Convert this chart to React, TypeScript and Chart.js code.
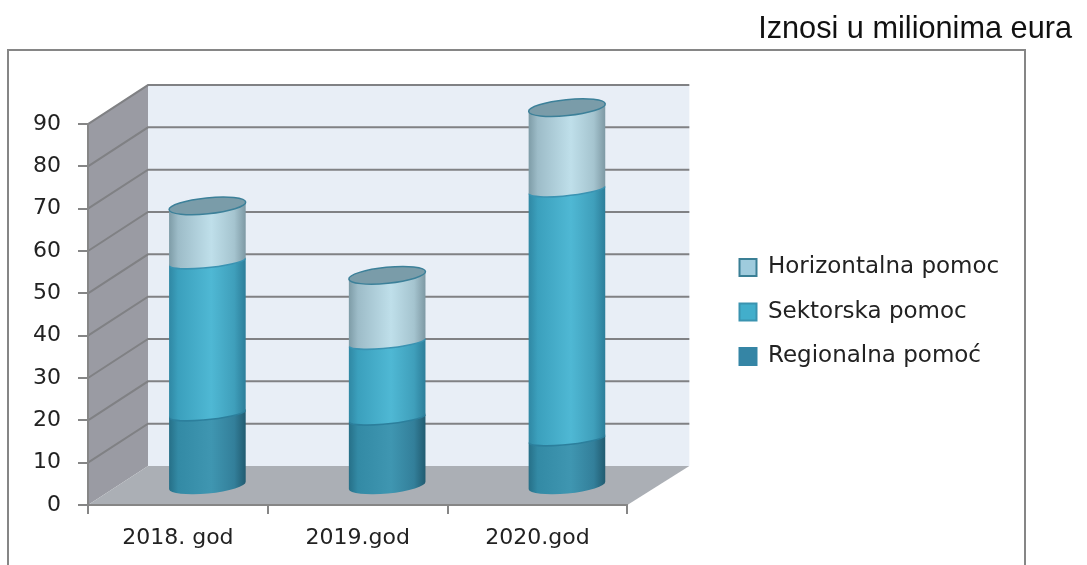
import React, { useEffect, useRef } from "react";
import { Chart, registerables } from "chart.js";

Chart.register(...registerables);

const categories = ["2018. god", "2019.god", "2020.god"];
const regionalna = [17.2, 16.2, 11.3];
const sektorska = [35.9, 17.9, 58.8];
const horizontalna = [13.2, 15.8, 19.4];
const yTicks = [0, 10, 20, 30, 40, 50, 60, 70, 80, 90];

const LABEL_FONT = "'DejaVu Sans'";
const DEPTH_X = 60;
const DEPTH_Y = 39;
const BAR_DX = 29.5;
const BAR_DY = -18.5;
const RY = 8;
const ROT = -0.1;

const stops = [0, 0.12, 0.55, 0.85, 1];
const gradients = [
  ["#266f87", "#338aa5", "#3f96b1", "#337f9a", "#215b70"],
  ["#2f87a3", "#3ba0bd", "#4fb8d4", "#3f9fbb", "#2c7d99"],
  ["#7d9ba6", "#9dbcc8", "#bfdfea", "#a5c4cf", "#7d98a3"],
];

const scene = {
  id: "scene3d",
  afterLayout(chart: any) {
    chart.legend.left = 718;
    chart.legend.top += 59;
  },
  beforeDraw(chart: any) {
    const { ctx, chartArea: a, scales } = chart;
    const y = scales.y;
    ctx.save();
    ctx.fillStyle = "#ffffff";
    ctx.fillRect(0, 0, chart.width, chart.height);
    ctx.strokeStyle = "#868686";
    ctx.lineWidth = 2;
    ctx.strokeRect(8, 50, 1017, 530);

    const bl = a.left, br = a.right, b = a.bottom, t = a.top;
    ctx.fillStyle = "#e8eef6";
    ctx.fillRect(bl + DEPTH_X, t - DEPTH_Y, br - bl + 2, b - t);
    ctx.fillStyle = "#9a9ba3";
    ctx.beginPath();
    ctx.moveTo(bl, b);
    ctx.lineTo(bl, t);
    ctx.lineTo(bl + DEPTH_X, t - DEPTH_Y);
    ctx.lineTo(bl + DEPTH_X, b - DEPTH_Y);
    ctx.closePath();
    ctx.fill();
    ctx.fillStyle = "#abafb5";
    ctx.beginPath();
    ctx.moveTo(bl, b);
    ctx.lineTo(br, b);
    ctx.lineTo(br + DEPTH_X + 2, b - DEPTH_Y);
    ctx.lineTo(bl + DEPTH_X, b - DEPTH_Y);
    ctx.closePath();
    ctx.fill();

    ctx.strokeStyle = "#808184";
    ctx.lineWidth = 2;
    for (const v of yTicks) {
      const py = y.getPixelForValue(v);
      if (v === 0) continue;
      ctx.beginPath();
      ctx.moveTo(bl, py);
      ctx.lineTo(bl + DEPTH_X, py - DEPTH_Y);
      ctx.lineTo(br + DEPTH_X + 2, py - DEPTH_Y);
      ctx.stroke();
    }
    ctx.restore();
  },
  beforeDatasetDraw() {
    return false;
  },
  afterDatasetsDraw(chart: any) {
    const { ctx } = chart;
    const n = chart.data.labels.length;
    for (let j = 0; j < n; j++) {
      let top: any = null;
      chart.data.datasets.forEach((_: any, i: number) => {
        const el = chart.getDatasetMeta(i).data[j];
        const rx = el.width / 2;
        const cx = el.x + BAR_DX;
        const yb = el.base + BAR_DY;
        const yt = el.y + BAR_DY;
        const g = ctx.createLinearGradient(cx - rx, 0, cx + rx, 0);
        stops.forEach((s, k) => g.addColorStop(s, gradients[i][k]));
        ctx.beginPath();
        ctx.ellipse(cx, yb, rx, i === 0 ? RY : RY - 2, ROT, 0, Math.PI);
        ctx.ellipse(cx, yt, rx, RY - 2, ROT, Math.PI, 0);
        ctx.closePath();
        ctx.fillStyle = g;
        ctx.fill();
        if (i > 0) {
          ctx.beginPath();
          ctx.ellipse(cx, yb, rx, RY - 2, ROT, 0.12, Math.PI - 0.12);
          ctx.strokeStyle = i === 1 ? "#2c7f9c" : "#3a93b2";
          ctx.lineWidth = 1.5;
          ctx.stroke();
        }
        top = { cx, yt, rx };
      });
      if (top) {
        ctx.beginPath();
        ctx.ellipse(top.cx, top.yt, top.rx, RY, ROT, 0, Math.PI * 2);
        ctx.fillStyle = "#7a9ca9";
        ctx.fill();
        ctx.strokeStyle = "#3c8099";
        ctx.lineWidth = 1.5;
        ctx.stroke();
      }
    }
  },
};

export default function App() {
  const ref = useRef<HTMLCanvasElement>(null);
  useEffect(() => {
    const chart = new Chart(ref.current as HTMLCanvasElement, {
      type: "bar",
      plugins: [scene],
      data: {
        labels: categories,
        datasets: [
          { label: "Regionalna pomoć", data: regionalna, backgroundColor: "#3585a5", borderColor: "#3585a5", borderWidth: 2, barThickness: 77, clip: false },
          { label: "Sektorska pomoc", data: sektorska, backgroundColor: "#42aecb", borderColor: "#3a93b0", borderWidth: 2, barThickness: 77, clip: false },
          { label: "Horizontalna pomoc", data: horizontalna, backgroundColor: "#9fcbdd", borderColor: "#3a7f95", borderWidth: 2, barThickness: 77, clip: false },
        ],
      } as any,
      options: {
        responsive: false,
        animation: false,
        layout: { padding: { left: 0, right: 15, top: 0, bottom: 0 } },
        scales: {
          x: {
            stacked: true,
            grid: { drawOnChartArea: false, drawTicks: true, tickLength: 9, offset: true, color: "#868686", lineWidth: 2 },
            border: { color: "#868686", width: 2 },
            ticks: { color: "#222222", font: { family: LABEL_FONT, size: 22 }, padding: 11, maxRotation: 0 },
            afterFit: (s: any) => { s.height = 60; },
          },
          y: {
            stacked: true,
            min: 0,
            max: 90,
            afterBuildTicks: (s: any) => { s.ticks = yTicks.map((value) => ({ value })); },
            grid: { drawOnChartArea: false, drawTicks: true, tickLength: 10, color: "#868686", lineWidth: 2 },
            border: { color: "#868686", width: 2 },
            ticks: { color: "#222222", font: { family: LABEL_FONT, size: 22 }, padding: 17 },
            afterFit: (s: any) => { s.width = 88; },
          },
          spacer: {
            type: "linear",
            position: "right",
            display: true,
            ticks: { display: false },
            grid: { display: false },
            border: { display: false },
            afterFit: (s: any) => { s.width = 266; },
          },
        },
        plugins: {
          title: {
            display: true,
            text: "Iznosi u milionima eura",
            align: "end",
            color: "#111111",
            font: { family: "'Liberation Sans'", size: 30.7, weight: "normal" },
            padding: { top: 11, bottom: 76.2 },
          },
          legend: {
            position: "right",
            align: "center",
            reverse: true,
            labels: {
              color: "#222222",
              font: { family: LABEL_FONT, size: 23 },
              boxWidth: 17,
              boxHeight: 17,
              padding: 21.5,
            },
          },
          tooltip: { enabled: false },
        },
      } as any,
    });
    return () => chart.destroy();
  }, []);
  return (
    <canvas
      ref={ref}
      width={1087}
      height={565}
      style={{ position: "absolute", left: 0, top: 0, width: 1087, height: 565 }}
    />
  );
}
